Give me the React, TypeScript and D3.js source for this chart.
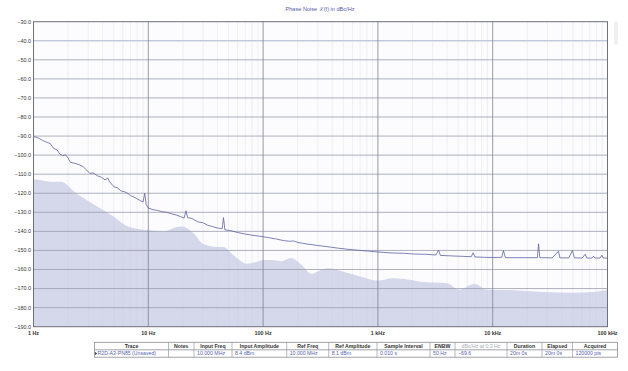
import React, { useEffect, useRef } from "react";
import * as d3 from "d3";

// measured trace (dBc/Hz vs offset freq)
const traceFreq = [
  1, 1.1, 1.2, 1.3, 1.4, 1.5, 1.6, 1.7, 1.8, 1.9, 2.0, 2.1, 2.3, 2.5, 2.7, 2.9, 3.1, 3.3, 3.6, 3.9,
  4.2, 4.45, 4.6, 5.0, 5.4, 5.8, 6.2, 6.6, 7.0, 7.5, 8.0, 8.6, 9.0, 9.3, 9.6, 10, 11, 12, 13, 14.5,
  16, 17.5, 19, 20.5, 21.3, 22, 24, 27, 30, 33, 36, 40, 44, 45.2, 46.5, 52, 60, 70, 80, 95,
  110, 130, 150, 170, 185, 200, 240, 300, 360, 450, 550, 700, 850, 1000, 1300, 1700, 2100, 2600, 3200, 3375,
  3500, 4500, 5500, 6500, 6750, 7000, 8500, 10000, 12000, 12400, 12900, 17000, 22000, 24500, 25100, 25700, 33000, 37400, 38500, 46000,
  49500, 51500, 60000, 64000, 66000, 73000, 75500, 78000, 86000, 89300, 92000, 100000,
];
const traceDb = [
  -90.2, -91.0, -92.3, -93.2, -94.0, -96.5, -97.2, -99.5, -100.2, -99.8, -101.5, -103.8, -104.3, -105.0, -106.0, -107.8, -109.6, -109.3, -110.8, -111.6,
  -113.0, -112.0, -114.0, -116.5, -117.2, -118.8, -119.2, -120.0, -121.2, -122.0, -122.9, -124.0, -124.6, -120.0, -126.0, -127.8, -128.6, -129.0, -129.6, -130.0,
  -130.8, -131.4, -132.2, -133.0, -129.2, -132.8, -133.2, -135.0, -135.5, -136.8, -137.4, -138.2, -138.6, -132.8, -139.2, -139.6, -140.6, -141.4, -142.0, -142.6,
  -143.2, -144.0, -144.8, -145.2, -145.0, -145.8, -146.6, -147.4, -148.0, -148.8, -149.4, -150.0, -150.4, -150.8, -151.3, -151.5, -151.9, -152.0, -152.4, -149.8,
  -152.6, -152.9, -153.1, -153.3, -151.2, -153.4, -153.6, -153.7, -153.6, -150.0, -153.8, -153.8, -153.8, -153.8, -146.5, -153.8, -153.9, -150.4, -153.9, -153.9,
  -150.0, -153.9, -154.0, -152.0, -154.0, -154.0, -153.0, -154.0, -154.0, -152.5, -154.0, -154.0,
];

// smoothed floor (shaded region)
const floorFreq = [
  1, 1.2, 1.4, 1.75, 2.0, 2.3, 2.9, 3.8, 5.0, 6.5, 8.5, 12, 14, 17, 19.5, 22, 25, 30, 37, 45,
  55, 72, 88, 100, 125, 145, 175, 215, 265, 300, 370, 500, 700, 1000, 1350, 1700, 2500, 4000, 5100, 6900,
  9000, 14000, 27000, 50000, 80000, 100000,
];
const floorDb = [
  -112.7, -113.3, -113.9, -114.0, -116.0, -119.5, -123.5, -127.9, -132.3, -137.2, -138.9, -139.8, -140.0, -138.0, -137.4, -138.5, -141.2, -146.5, -148.0, -148.2,
  -152.4, -157.0, -156.0, -155.0, -155.2, -155.6, -154.0, -157.5, -162.3, -161.0, -159.4, -161.2, -163.6, -165.8, -164.6, -165.0, -166.6, -167.2, -170.6, -167.6,
  -170.6, -170.8, -171.8, -172.2, -171.6, -170.8,
];

const yTickValues = [-30, -40, -50, -60, -70, -80, -90, -100, -110, -120, -130, -140, -150, -160, -170, -180, -190];
const xTickValues = [1, 10, 100, 1000, 10000, 100000];
const xTickLabels = ["1 Hz", "10 Hz", "100 Hz", "1 kHz", "10 kHz", "100 kHz"];

const tableHeaders = [
  "Trace", "Notes", "Input Freq", "Input Amplitude", "Ref Freq", "Ref Amplitude", "Sample Interval",
  "ENBW", "dBc/Hz at 0.3 Hz", "Duration", "Elapsed", "Acquired",
];
const tableValues = [
  "R2D-A3-PN85 (Unsaved)", "", "10.000 MHz", "8.4 dBm", "10.000 MHz", "8.1 dBm", "0.010 s",
  "50 Hz", "\u221269.6", "20m 0s", "20m 0s", "120000 pts",
];
// column edges in px (layout)
const tableEdges = [94.5, 168.5, 194, 232, 286.7, 328.7, 377, 430, 455, 507, 542, 572.5, 617.5];

const W = 628;
const H = 371;
const FONT = "'Liberation Sans', Arial, sans-serif";

export default function App() {
  const svgRef = useRef<SVGSVGElement>(null);

  useEffect(() => {
    const svg = d3.select(svgRef.current);
    svg.selectAll("*").remove();

    const left = 33.5;
    const right = 607.5;
    const top = 21.7;
    const bottom = 326.7;

    const x = d3.scaleLog().domain([1, 100000]).range([left, right]);
    const y = d3.scaleLinear().domain([-30, -190]).range([top, bottom]);

    // title
    svg.append("text")
      .attr("x", 320)
      .attr("y", 11)
      .attr("text-anchor", "middle")
      .attr("font-family", FONT)
      .attr("font-size", 5.6)
      .attr("fill", "#5a5aa6")
      .text("Phase Noise \u2112(f) in dBc/Hz");

    // small scroll stub on the right
    svg.append("rect")
      .attr("x", 614)
      .attr("y", 21.7)
      .attr("width", 4)
      .attr("height", 23)
      .attr("fill", "#f0f0f2");

    // plot background
    svg.append("rect")
      .attr("x", left)
      .attr("y", top)
      .attr("width", right - left)
      .attr("height", bottom - top)
      .attr("fill", "#fcfcfe");

    // shaded floor
    const floorData = floorFreq.map((f, i) => [f, floorDb[i]] as [number, number]);
    const area = d3.area<[number, number]>()
      .x((d) => x(d[0]))
      .y0(y(-190))
      .y1((d) => y(d[1]))
      .curve(d3.curveMonotoneX);
    svg.append("path")
      .attr("d", area(floorData))
      .attr("fill", "#d5d7eb");

    // minor vertical grid
    const minor: number[] = [];
    for (let dec = 1; dec < 100000; dec *= 10) {
      for (let m = 2; m <= 9; m++) minor.push(dec * m);
    }
    svg.append("g")
      .selectAll("line")
      .data(minor)
      .join("line")
      .attr("x1", (d) => x(d))
      .attr("x2", (d) => x(d))
      .attr("y1", top)
      .attr("y2", bottom)
      .attr("stroke", "#c9ccd8")
      .attr("stroke-opacity", 0.45)
      .attr("stroke-width", 0.6);

    // horizontal grid
    svg.append("g")
      .selectAll("line")
      .data(yTickValues.slice(1, -1))
      .join("line")
      .attr("x1", left)
      .attr("x2", right)
      .attr("y1", (d) => y(d))
      .attr("y2", (d) => y(d))
      .attr("stroke", (d) => (d === -40 ? "#c6c9dc" : "#9a9eac"))
      .attr("stroke-width", (d) => (d === -40 ? 1.6 : 0.8));

    // decade lines
    svg.append("g")
      .selectAll("line")
      .data(xTickValues.slice(1, -1))
      .join("line")
      .attr("x1", (d) => x(d))
      .attr("x2", (d) => x(d))
      .attr("y1", top)
      .attr("y2", bottom)
      .attr("stroke", "#7e8292")
      .attr("stroke-width", 0.8);

    // trace
    const traceData = traceFreq.map((f, i) => [f, traceDb[i]] as [number, number]);
    const line = d3.line<[number, number]>()
      .x((d) => x(d[0]))
      .y((d) => y(d[1]));
    svg.append("path")
      .attr("d", line(traceData))
      .attr("fill", "none")
      .attr("stroke", "#5f62a2")
      .attr("stroke-width", 0.8);

    // frame
    svg.append("rect")
      .attr("x", left)
      .attr("y", top)
      .attr("width", right - left)
      .attr("height", bottom - top)
      .attr("fill", "none")
      .attr("stroke", "#6e707a")
      .attr("stroke-width", 1);

    // y labels
    svg.append("g")
      .selectAll("text")
      .data(yTickValues)
      .join("text")
      .attr("x", 31)
      .attr("y", (d) => y(d) + 1.9)
      .attr("text-anchor", "end")
      .attr("font-family", FONT)
      .attr("font-size", 5.4)
      .attr("fill", "#333")
      .text((d) => d3.format(".1f")(d).replace("-", "\u2212"));

    // x labels
    svg.append("g")
      .selectAll("text")
      .data(xTickValues)
      .join("text")
      .attr("x", (d) => x(d))
      .attr("y", 335)
      .attr("text-anchor", "middle")
      .attr("font-family", FONT)
      .attr("font-size", 5.4)
      .attr("font-weight", "bold")
      .attr("fill", "#333")
      .text((d, i) => xTickLabels[i]);

    // info table
    const tTop = 342.3;
    const tMid = 349.8;
    const tBot = 357.2;
    const tbl = svg.append("g");
    tbl.append("rect")
      .attr("x", tableEdges[0])
      .attr("y", tTop)
      .attr("width", tableEdges[tableEdges.length - 1] - tableEdges[0])
      .attr("height", tBot - tTop)
      .attr("fill", "#fff")
      .attr("stroke", "#8a8c96")
      .attr("stroke-width", 0.8);
    tbl.append("line")
      .attr("x1", tableEdges[0])
      .attr("x2", tableEdges[tableEdges.length - 1])
      .attr("y1", tMid)
      .attr("y2", tMid)
      .attr("stroke", "#8a8c96")
      .attr("stroke-width", 0.8);
    tbl.selectAll("line.col")
      .data(tableEdges.slice(1, -1))
      .join("line")
      .attr("class", "col")
      .attr("x1", (d) => d)
      .attr("x2", (d) => d)
      .attr("y1", tTop)
      .attr("y2", tBot)
      .attr("stroke", "#8a8c96")
      .attr("stroke-width", 0.6);
    tbl.selectAll("text.hdr")
      .data(tableHeaders)
      .join("text")
      .attr("class", "hdr")
      .attr("x", (d, i) => (tableEdges[i] + tableEdges[i + 1]) / 2)
      .attr("y", tMid - 1.8)
      .attr("text-anchor", "middle")
      .attr("font-family", FONT)
      .attr("font-size", 5.2)
      .attr("font-weight", (d, i) => (i === 8 ? "normal" : "bold"))
      .attr("fill", (d, i) => (i === 8 ? "#a8aab8" : "#333"))
      .text((d) => d);
    tbl.selectAll("text.val")
      .data(tableValues)
      .join("text")
      .attr("class", "val")
      .attr("x", (d, i) => tableEdges[i] + 3)
      .attr("y", tBot - 1.8)
      .attr("font-family", FONT)
      .attr("font-size", 5.2)
      .attr("fill", "#5563b0")
      .text((d) => d);
    tbl.append("path")
      .attr("d", `M${tableEdges[0] + 0.6},${tMid + 2} L${tableEdges[0] + 2.6},${(tMid + tBot) / 2} L${tableEdges[0] + 0.6},${tBot - 2} Z`)
      .attr("fill", "#333");
  }, []);

  return (
    <svg
      ref={svgRef}
      width={W}
      height={H}
      style={{ position: "absolute", left: 0, top: 0, background: "#fff" }}
    />
  );
}
